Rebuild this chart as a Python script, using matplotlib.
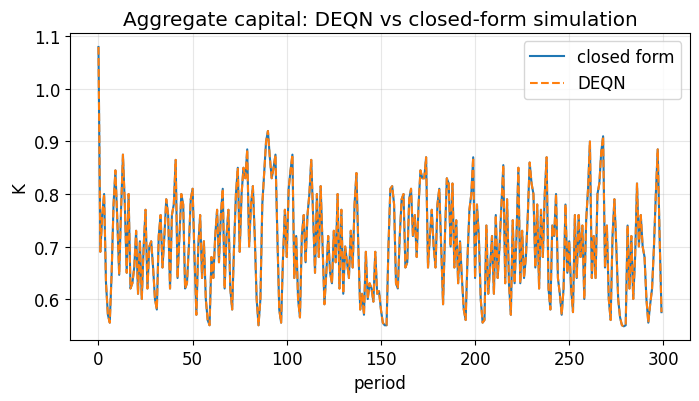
import numpy as np
import matplotlib
matplotlib.use('Agg')
import matplotlib.pyplot as plt

# aggregate capital per period
k_closed = [
    1.08, 0.69, 0.76, 0.80, 0.63, 0.57, 0.555, 0.65, 0.78, 0.845,
    0.75, 0.646, 0.77, 0.875, 0.78, 0.65, 0.80, 0.62, 0.63, 0.66,
    0.73, 0.61, 0.71, 0.60, 0.70, 0.77, 0.62, 0.70, 0.71, 0.66,
    0.60, 0.58, 0.72, 0.76, 0.66, 0.72, 0.79, 0.76, 0.62, 0.76,
    0.78, 0.865, 0.64, 0.72, 0.80, 0.78, 0.62, 0.63, 0.70, 0.79,
    0.81, 0.68, 0.57, 0.70, 0.76, 0.64, 0.71, 0.60, 0.56, 0.55,
    0.68, 0.64, 0.72, 0.77, 0.67, 0.76, 0.81, 0.62, 0.72, 0.77,
    0.62, 0.58, 0.70, 0.80, 0.85, 0.69, 0.80, 0.85, 0.83, 0.885,
    0.70, 0.78, 0.815, 0.72, 0.60, 0.55, 0.60, 0.78, 0.84, 0.90,
    0.92, 0.87, 0.83, 0.85, 0.875, 0.72, 0.58, 0.555, 0.68, 0.77,
    0.68, 0.81, 0.845, 0.875, 0.64, 0.72, 0.60, 0.565, 0.72, 0.76,
    0.67, 0.76, 0.80, 0.865, 0.76, 0.65, 0.80, 0.68, 0.815, 0.70,
    0.59, 0.65, 0.72, 0.65, 0.63, 0.73, 0.67, 0.80, 0.62, 0.77,
    0.61, 0.70, 0.67, 0.64, 0.73, 0.66, 0.78, 0.84, 0.70, 0.58,
    0.61, 0.57, 0.69, 0.60, 0.63, 0.62, 0.595, 0.69, 0.61, 0.615,
    0.58, 0.555, 0.55, 0.55, 0.70, 0.81, 0.815, 0.78, 0.63, 0.62,
    0.72, 0.79, 0.80, 0.66, 0.67, 0.79, 0.81, 0.72, 0.76, 0.68,
    0.78, 0.845, 0.83, 0.83, 0.87, 0.66, 0.72, 0.77, 0.70, 0.66,
    0.78, 0.81, 0.70, 0.59, 0.72, 0.83, 0.82, 0.70, 0.82, 0.66,
    0.75, 0.63, 0.71, 0.64, 0.58, 0.56, 0.68, 0.77, 0.80, 0.87,
    0.64, 0.78, 0.72, 0.60, 0.555, 0.56, 0.74, 0.61, 0.66, 0.72,
    0.61, 0.76, 0.64, 0.70, 0.78, 0.855, 0.63, 0.79, 0.63, 0.57,
    0.75, 0.63, 0.72, 0.85, 0.63, 0.73, 0.64, 0.68, 0.76, 0.86,
    0.82, 0.80, 0.66, 0.78, 0.62, 0.77, 0.68, 0.80, 0.87, 0.62,
    0.58, 0.74, 0.72, 0.80, 0.64, 0.61, 0.57, 0.62, 0.78, 0.65,
    0.71, 0.62, 0.575, 0.76, 0.64, 0.76, 0.68, 0.74, 0.60, 0.75,
    0.81, 0.90, 0.64, 0.72, 0.64, 0.80, 0.82, 0.88, 0.91, 0.66,
    0.74, 0.60, 0.56, 0.72, 0.79, 0.70, 0.60, 0.565, 0.55, 0.548,
    0.55, 0.74, 0.62, 0.72, 0.60, 0.68, 0.82, 0.70, 0.76, 0.70,
    0.68, 0.60, 0.555, 0.59, 0.62, 0.70, 0.80, 0.885, 0.72, 0.575,
]
# DEQN path is indistinguishable from the closed form at this scale
k_deqn = list(k_closed)
periods = np.arange(len(k_closed))

plt.rcParams['font.size'] = 12

fig = plt.figure(figsize=(6.99, 4.02), dpi=100)
ax = fig.add_axes([0.1006, 0.151, 0.886, 0.7644])

ax.plot(periods, k_closed, label='closed form')
ax.plot(periods, k_deqn, '--', label='DEQN')
ax.set_xlabel('period')
ax.set_ylabel('K')
ax.set_title('Aggregate capital: DEQN vs closed-form simulation')
ax.grid(alpha=0.3)
ax.legend(loc='upper right')

fig.savefig('out.png', dpi=100)
